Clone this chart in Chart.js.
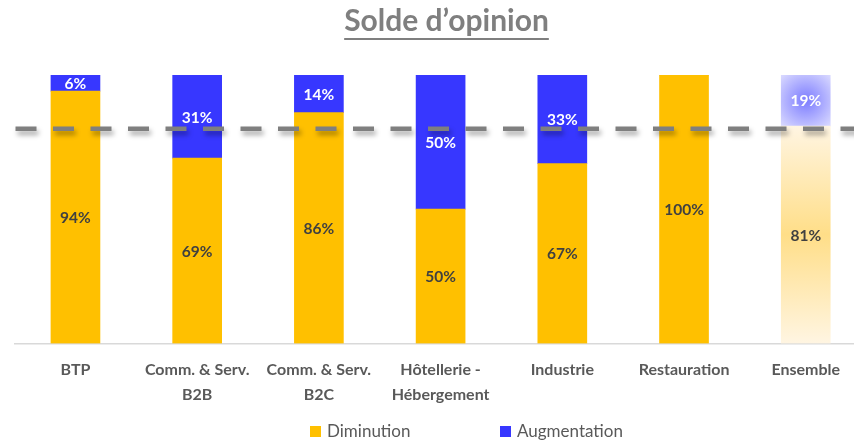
<!DOCTYPE html>
<html>
<head>
<meta charset="utf-8">
<script src="https://cdn.jsdelivr.net/npm/chart.js@4/dist/chart.umd.min.js"></script>
<style>
  html, body { margin: 0; padding: 0; background: #fff; overflow: hidden; width: 854px; height: 440px; }
  #wrap { width: 868px; height: 440px; }
</style>
</head>
<body>
<div id="wrap"><canvas id="c" width="868" height="440"></canvas></div>
<script>
const categories = [["BTP"], ["Comm. & Serv.", "B2B"], ["Comm. & Serv.", "B2C"], ["Hôtellerie -", "Hébergement"], ["Industrie"], ["Restauration"], ["Ensemble"]];
const diminution = [94, 69, 86, 50, 67, 100, 81];
const augmentation = [6, 31, 14, 50, 33, 0, 19];
const seriesNames = ["Diminution", "Augmentation"];
const referenceLevel = 80;
const titleText = "Solde d\u2019opinion";

const FONT = "Lato, Carlito, 'Open Sans', sans-serif";
const ORANGE = "#FFC000";
const BLUE = "#3737FF";
const HIGHLIGHT_INDEX = categories.length - 1;

function orangeColor(ctx) {
  if (ctx.dataIndex !== HIGHLIGHT_INDEX) return ORANGE;
  const chart = ctx.chart;
  if (!chart.chartArea || !chart.scales.y) return ORANGE;
  const y = chart.scales.y;
  const top = y.getPixelForValue(diminution[HIGHLIGHT_INDEX]);
  const bot = y.getPixelForValue(0);
  const g = chart.ctx.createLinearGradient(0, top, 0, bot);
  g.addColorStop(0, "#FFF5E2");
  g.addColorStop(0.5, "#FFDE88");
  g.addColorStop(1, "#FFF5E2");
  return g;
}
function blueColor(ctx) {
  if (ctx.dataIndex !== HIGHLIGHT_INDEX) return BLUE;
  const chart = ctx.chart;
  if (!chart.chartArea || !chart.scales.y) return BLUE;
  const y = chart.scales.y, x = chart.scales.x;
  const top = y.getPixelForValue(100);
  const bot = y.getPixelForValue(diminution[HIGHLIGHT_INDEX]);
  const cx = x.getPixelForValue(HIGHLIGHT_INDEX);
  const cy = (top + bot) / 2;
  const g = chart.ctx.createRadialGradient(cx, cy, 0, cx, cy, 36);
  g.addColorStop(0, "#7C7CFF");
  g.addColorStop(1, "#DCDCFF");
  return g;
}

const overlay = {
  id: "overlay",
  afterDatasetsDraw(chart) {
    const c = chart.ctx;
    const y = chart.scales.y;
    // dashed reference line
    const ly = y.getPixelForValue(referenceLevel);
    c.save();
    c.strokeStyle = "#7F7F7F";
    c.lineWidth = 4.5;
    c.setLineDash([21, 16.5]);
    c.shadowColor = "rgba(0,0,0,0.35)";
    c.shadowBlur = 5;
    c.shadowOffsetX = 2;
    c.shadowOffsetY = 4;
    c.beginPath();
    c.moveTo(15.5, ly);
    c.lineTo(chart.width, ly);
    c.stroke();
    c.restore();
    // value labels
    c.save();
    c.font = "bold 15.5px " + FONT;
    c.textAlign = "center";
    c.textBaseline = "middle";
    chart.data.datasets.forEach((ds, di) => {
      const meta = chart.getDatasetMeta(di);
      meta.data.forEach((el, i) => {
        const v = ds.data[i];
        if (!v) return;
        c.fillStyle = di === 0 ? "#404040" : "#FFFFFF";
        c.fillText(v + "%", el.x, (el.y + el.base) / 2 + 1);
      });
    });
    c.restore();
  },
  afterDraw(chart) {
    const c = chart.ctx;
    c.save();
    // title with underline
    c.font = "bold 30px " + FONT;
    c.fillStyle = "#7F7F7F";
    c.textAlign = "center";
    c.textBaseline = "alphabetic";
    const tx = 446.5;
    c.fillText(titleText, tx, 31);
    const w = c.measureText(titleText).width;
    c.fillRect(tx - w / 2, 38, w, 2);
    // legend
    const items = [
      { x: 310, color: ORANGE, text: seriesNames[0] },
      { x: 500, color: BLUE, text: seriesNames[1] }
    ];
    c.font = "17px " + FONT;
    c.textAlign = "left";
    c.textBaseline = "middle";
    items.forEach(it => {
      c.fillStyle = it.color;
      c.fillRect(it.x, 426, 11, 11);
      c.fillStyle = "#595959";
      c.fillText(it.text, it.x + 17, 432);
    });
    c.restore();
  }
};

new Chart(document.getElementById("c"), {
  type: "bar",
  data: {
    labels: categories,
    datasets: [
      { label: seriesNames[0], data: diminution, backgroundColor: orangeColor, barThickness: 49 },
      { label: seriesNames[1], data: augmentation, backgroundColor: blueColor, barThickness: 49 }
    ]
  },
  options: {
    responsive: false,
    animation: false,
    devicePixelRatio: 1,
    layout: { padding: { left: 14.6, right: 1.4, top: 75, bottom: 19 } },
    plugins: { legend: { display: false }, tooltip: { enabled: false }, title: { display: false } },
    scales: {
      x: {
        stacked: true,
        grid: { display: false, drawTicks: false },
        border: { display: true, color: "#D9D9D9", width: 1.5 },
        ticks: {
          color: "#595959",
          font: { family: FONT, size: 16, weight: "bold", lineHeight: 1.55 },
          padding: 14,
          maxRotation: 0,
          autoSkip: false
        }
      },
      y: {
        stacked: true,
        display: false,
        min: 0,
        max: 100
      }
    }
  },
  plugins: [overlay]
});
</script>
</body>
</html>
